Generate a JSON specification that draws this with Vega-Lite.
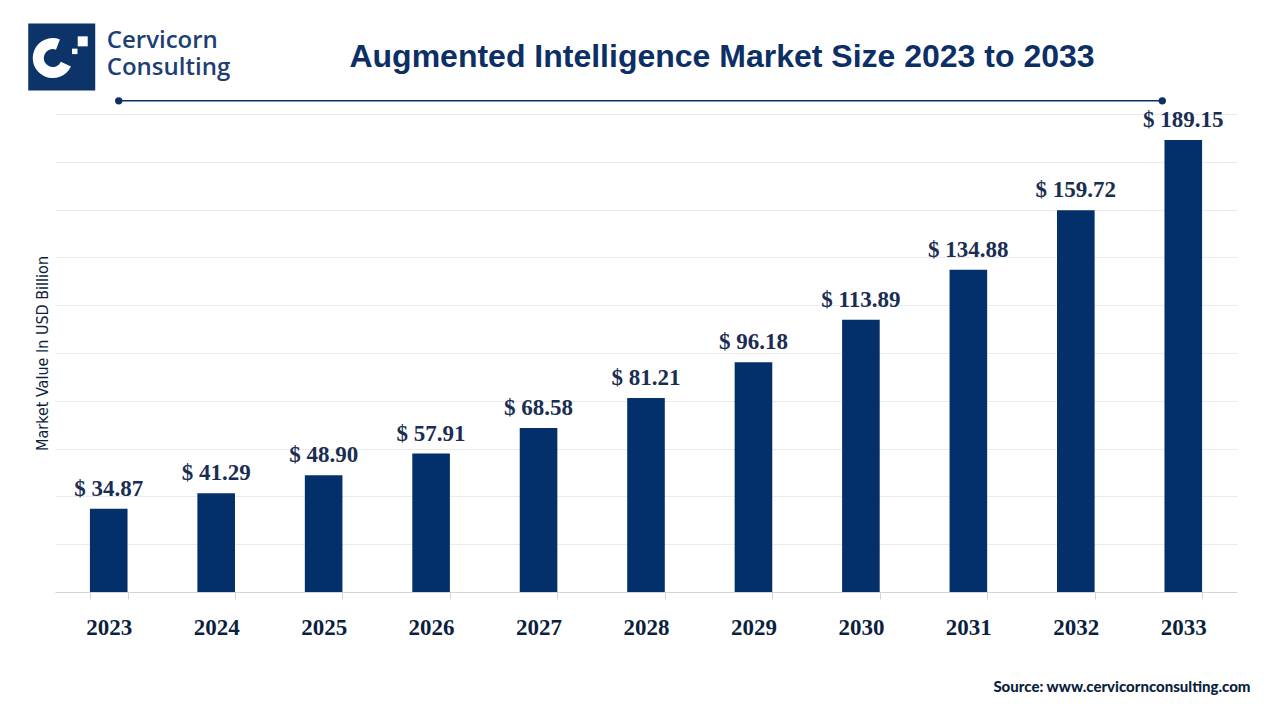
{
  "$schema": "https://vega.github.io/schema/vega-lite/v6.json",
  "width": 1182,
  "height": 478,
  "autosize": "none",
  "padding": {"left": 55, "top": 114, "right": 43, "bottom": 128},
  "background": "white",
  "config": {"view": {"stroke": null}},
  "title": {
    "text": "Augmented Intelligence Market Size 2023 to 2033",
    "font": "Liberation Sans",
    "fontSize": 32,
    "fontWeight": "bold",
    "color": "#0c2f66",
    "anchor": "middle",
    "frame": "group",
    "dx": 76,
    "offset": -75.5,
    "baseline": "alphabetic"
  },
  "data": {
    "values": [
      {"year": "2023", "value": 34.87, "label": "$ 34.87"},
      {"year": "2024", "value": 41.29, "label": "$ 41.29"},
      {"year": "2025", "value": 48.90, "label": "$ 48.90"},
      {"year": "2026", "value": 57.91, "label": "$ 57.91"},
      {"year": "2027", "value": 68.58, "label": "$ 68.58"},
      {"year": "2028", "value": 81.21, "label": "$ 81.21"},
      {"year": "2029", "value": 96.18, "label": "$ 96.18"},
      {"year": "2030", "value": 113.89, "label": "$ 113.89"},
      {"year": "2031", "value": 134.88, "label": "$ 134.88"},
      {"year": "2032", "value": 159.72, "label": "$ 159.72"},
      {"year": "2033", "value": 189.15, "label": "$ 189.15"}
    ]
  },
  "encoding": {
    "x": {
      "field": "year",
      "type": "nominal",
      "sort": null,
      "scale": {"paddingInner": 0.65, "paddingOuter": 0.325},
      "axis": {
        "title": "Source: www.cervicornconsulting.com",
        "titleFont": "Lato",
        "titleFontSize": 15,
        "titleFontWeight": 900,
        "titleColor": "#0d1f40",
        "titleAnchor": "end",
        "titleAlign": "right",
        "titleX": 1195,
        "titlePadding": 40,
        "labelAngle": 0,
        "labelFont": "Liberation Serif",
        "labelFontSize": 23,
        "labelFontWeight": "bold",
        "labelColor": "#0d1f40",
        "labelPadding": 17,
        "tickBand": "extent",
        "tickSize": 7,
        "tickColor": "#d4d4d4",
        "domainColor": "#d4d4d4",
        "grid": false
      }
    },
    "y": {
      "field": "value",
      "type": "quantitative",
      "scale": {"domain": [0, 200]},
      "axis": {
        "title": "Market Value In USD Billion",
        "titleFont": "'DejaVu Sans Condensed', Roboto, sans-serif",
        "titleFontSize": 16,
        "titleFontWeight": "normal",
        "titleColor": "#0d1f40",
        "titlePadding": 5,
        "values": [0, 20, 40, 60, 80, 100, 120, 140, 160, 180, 200],
        "labels": false,
        "ticks": false,
        "domain": false,
        "grid": true,
        "gridColor": "#ebebeb"
      }
    }
  },
  "layer": [
    {"mark": {"type": "bar", "color": "#03306a"}},
    {
      "mark": {"type": "text", "font": "Liberation Serif", "fontSize": 23, "fontWeight": "bold", "color": "#1a2d52", "baseline": "bottom", "dy": -8},
      "encoding": {"text": {"field": "label"}}
    },
    {
      "transform": [{"filter": "datum.year == '2023'"}],
      "layer": [
        {
          "mark": {"type": "rule", "color": "#0c2f66", "strokeWidth": 1.5, "xOffset": 10, "x2Offset": -21, "clip": false},
          "encoding": {"x": {"datum": "2023"}, "x2": {"datum": "2033"}, "y": {"datum": 205.5}}
        },
        {
          "mark": {"type": "point", "filled": true, "opacity": 1, "color": "#0c2f66", "size": 55, "xOffset": 10},
          "encoding": {"x": {"datum": "2023"}, "y": {"datum": 205.5}}
        },
        {
          "mark": {"type": "point", "filled": true, "opacity": 1, "color": "#0c2f66", "size": 55, "xOffset": -21},
          "encoding": {"x": {"datum": "2033"}, "y": {"datum": 205.5}}
        },
        {
          "mark": {"type": "point", "shape": "square", "filled": true, "opacity": 1, "color": "#0d3468", "size": 4489, "xOffset": -47},
          "encoding": {"x": {"datum": "2023"}, "y": {"datum": 223.8}}
        },
        {
          "mark": {"type": "arc", "color": "white", "radius": 20, "radius2": 9, "theta": 2.0, "theta2": 6.65, "xOffset": -56},
          "encoding": {"x": {"datum": "2023"}, "y": {"datum": 223.4}}
        },
        {
          "mark": {"type": "point", "shape": "square", "filled": true, "opacity": 1, "color": "white", "size": 100, "xOffset": -26},
          "encoding": {"x": {"datum": "2023"}, "y": {"datum": 230.4}}
        },
        {
          "mark": {"type": "point", "shape": "square", "filled": true, "opacity": 1, "color": "white", "size": 30, "xOffset": -34},
          "encoding": {"x": {"datum": "2023"}, "y": {"datum": 226.2}}
        },
        {
          "mark": {"type": "text", "text": "Cervicorn", "font": "Open Sans", "fontSize": 24, "fontWeight": 600, "color": "#1d3f73", "align": "left", "baseline": "middle", "xOffset": -2},
          "encoding": {"x": {"datum": "2023"}, "y": {"datum": 230.6}}
        },
        {
          "mark": {"type": "text", "text": "Consulting", "font": "Open Sans", "fontSize": 24, "fontWeight": 600, "color": "#1d3f73", "align": "left", "baseline": "middle", "xOffset": -2},
          "encoding": {"x": {"datum": "2023"}, "y": {"datum": 219.3}}
        }
      ]
    }
  ]
}
